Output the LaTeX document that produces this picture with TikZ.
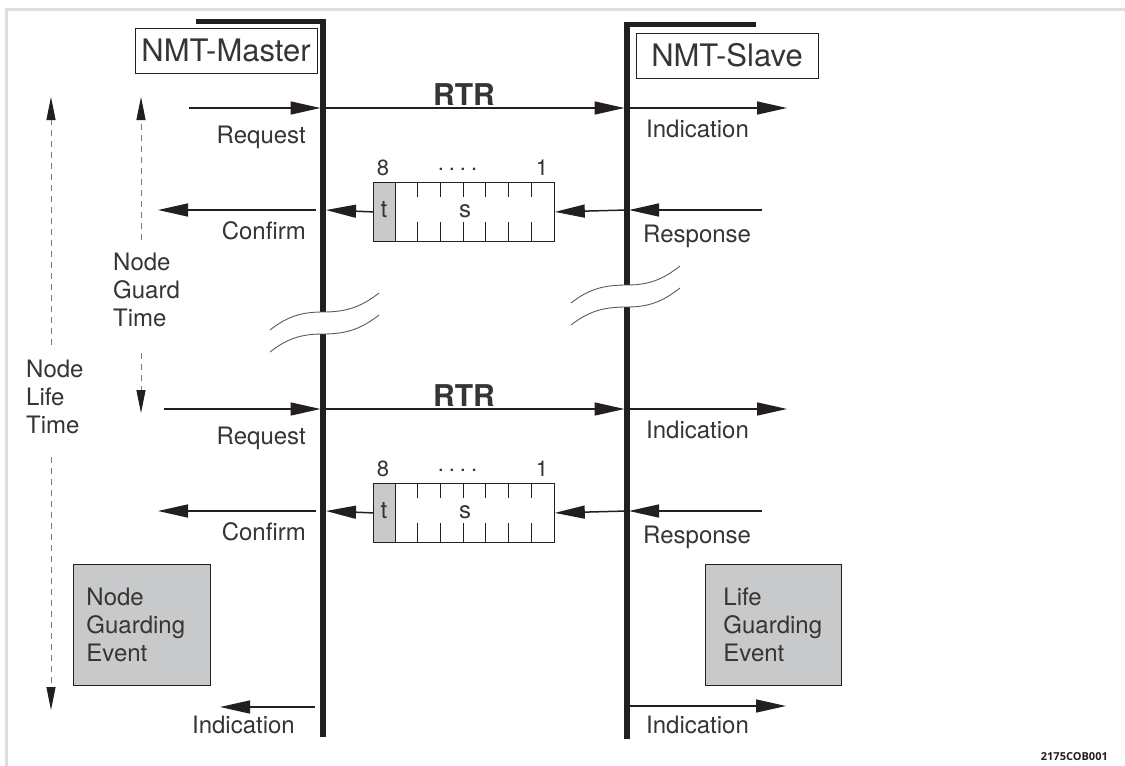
\documentclass[tikz,border=0pt]{standalone}
\usepackage{fontspec}
\setmainfont{TeX Gyre Heros}
\newfontfamily\codefont{Open Sans}
\usetikzlibrary{arrows.meta}
\definecolor{ink}{HTML}{231F20}
\definecolor{txt}{HTML}{353535}
\definecolor{boxgray}{HTML}{C8C9CB}
\definecolor{framegray}{HTML}{DDDDDD}
\definecolor{dashgray}{HTML}{7A7A7A}
\definecolor{wavegray}{HTML}{5A5A5A}
\begin{document}
\begin{tikzpicture}[x=1pt,y=-1pt,
  lbl/.style={font=\fontsize{24}{28}\selectfont, text=txt, inner sep=0pt},
  small/.style={font=\fontsize{22}{26}\selectfont, text=txt, inner sep=0pt},
  ttl/.style={draw=ink, line width=0.9pt, font=\fontsize{31}{36}\selectfont, text=txt, minimum width=182pt, minimum height=45pt, inner sep=0pt},
  rtr/.style={font=\fontsize{30}{36}\selectfont\bfseries, text=txt, inner sep=0pt},
  msg/.style={draw=ink, line width=1.5pt, -{Triangle[length=30pt,width=13pt]}},
  lifeline/.style={draw=ink, line width=5.5pt},
  dasharrow/.style={draw=dashgray, line width=0.9pt, dash pattern=on 6pt off 5pt, -{Triangle[length=23pt,width=9pt,color=ink]}},
  waveline/.style={draw=wavegray, line width=0.9pt},
  frameline/.style={draw=framegray, line width=2.7pt},
  cell/.style={draw=ink, line width=0.8pt, minimum height=59pt, inner sep=0pt, anchor=north west},
  event/.style={draw=ink, fill=boxgray, line width=0.9pt, minimum height=121pt, align=left, font=\fontsize{24}{28}\selectfont, text=txt, inner ysep=0pt},
  multi/.style={align=left, font=\fontsize{24}{28}\selectfont, text=txt, inner sep=0pt, anchor=north west}
]
\useasboundingbox (0,0) rectangle (1125,766);
\fill[white] (0,0) rectangle (1125,766);

% outer frame
\draw[frameline] (6.7,766) -- (6.7,9.7) -- (1125,9.7);

% lifelines
\draw[lifeline] (196,21.5) -- (323,21.5) -- (323,312);
\draw[lifeline] (323,334) -- (323,737);
\draw[lifeline] (756,24.7) -- (627,24.7) -- (627,285);
\draw[lifeline] (627,307) -- (627,739);

% break marks
\draw[waveline] (270,330) to[out=38,in=180] (323,312) to[out=0,in=218] (379,293);
\draw[waveline] (270,352) to[out=38,in=180] (323,334) to[out=0,in=218] (379,315);
\draw[waveline] (571,303) to[out=38,in=180] (627,285) to[out=0,in=218] (680,266);
\draw[waveline] (571,325) to[out=38,in=180] (627,307) to[out=0,in=218] (680,288);

% titles
\node[ttl, fill=white] (master) at (226,50.5) {NMT-Master};
\node[ttl, fill=white] (slave) at (727,55.5) {NMT-Slave};

% two guarding cycles
\foreach \r/\dy/\rqx in {1/0/189, 2/301/164} {
  % request / RTR / indication
  \coordinate (rqs\r) at (\rqx,108+\dy);
  \coordinate (rqe\r) at (320.5,108+\dy);
  \coordinate (rts\r) at (323,108+\dy);
  \coordinate (rte\r) at (624.5,108+\dy);
  \coordinate (ins\r) at (627,108+\dy);
  \coordinate (ine\r) at (787,108+\dy);
  \draw[msg] (rqs\r) -- (rqe\r);
  \draw[msg] (rts\r) -- (rte\r);
  \draw[msg] (ins\r) -- (ine\r);
  \node[rtr, anchor=base] (rtr\r) at (464,105+\dy) {RTR};
  \node[lbl, anchor=base east] (req\r) at (306,143+\dy) {Request};
  \node[lbl, anchor=base west] (ind\r) at (646,137+\dy) {Indication};
  % message frame
  \node[cell, fill=white, minimum width=181pt] (frame\r) at (373,182+\dy) {};
  \node[cell, fill=boxgray, minimum width=22pt, font=\fontsize{24}{28}\selectfont, text=txt] (tcell\r) at (373,182+\dy) {};
  \node[lbl, anchor=base] (tl\r) at (384,217+\dy) {t};
  \node[lbl, anchor=base] (sl\r) at (465,217+\dy) {s};
  \foreach \x in {417.7,440.3,463,485.7,508.3,531} {
    \draw[ink, line width=0.8pt] (\x,182+\dy) -- ++(0,15);
    \draw[ink, line width=0.8pt] (\x,241+\dy) -- ++(0,-19);
  }
  \node[small, anchor=base] (eight\r) at (383,175+\dy) {8};
  \node[small, anchor=base] (one\r) at (542,175+\dy) {1};
  \node[small, anchor=base] (dots\r) at (457.5,170+\dy) {.\hspace{5pt}.\hspace{5pt}.\hspace{5pt}.};
  % response / confirm
  \coordinate (rss\r) at (762,210+\dy);
  \coordinate (rse\r) at (629,210+\dy);
  \coordinate (fs\r) at (627,210+\dy);
  \coordinate (cfe\r) at (326,210+\dy);
  \coordinate (cos\r) at (316,210+\dy);
  \coordinate (coe\r) at (158,210+\dy);
  \draw[msg] (rss\r) -- (rse\r);
  \draw[msg] (fs\r) -- (frame\r.east);
  \draw[msg] (tcell\r.west) -- (cfe\r);
  \draw[msg] (cos\r) -- (coe\r);
  \node[lbl, anchor=base east] (conf\r) at (306,239+\dy) {Confirm};
  \node[lbl, anchor=base west] (resp\r) at (643,242+\dy) {Response};
}

% time spans
\node[multi] (guardtime) at (113,252.5) {Node\\Guard\\Time};
\node[multi] (lifetime) at (26,359.5) {Node\\Life\\Time};
\coordinate (gt1) at (141,240); \coordinate (gt1e) at (141,97);
\coordinate (gt2) at (141,353); \coordinate (gt2e) at (141,413);
\coordinate (lt1) at (51,345); \coordinate (lt1e) at (51,97);
\coordinate (lt2) at (51,457); \coordinate (lt2e) at (51,710);
\draw[dasharrow] (gt1) -- (gt1e);
\draw[dasharrow] (gt2) -- (gt2e);
\draw[dasharrow] (lt1) -- (lt1e);
\draw[dasharrow] (lt2) -- (lt2e);

% events
\node[event, anchor=north west, minimum width=137pt, text width=111pt, inner xsep=13pt] (nge) at (73,564) {Node\\Guarding\\Event};
\node[event, anchor=north west, minimum width=136pt, text width=100pt, inner xsep=18pt] (lge) at (705,564) {Life\\Guarding\\Event};

% final indications
\coordinate (mis) at (315,707); \coordinate (mie) at (220,707);
\coordinate (sis) at (627,706); \coordinate (sie) at (786,706);
\draw[msg] (mis) -- (mie);
\draw[msg] (sis) -- (sie);
\node[lbl, anchor=base east] (mind) at (295,733) {Indication};
\node[lbl, anchor=base west] (sind) at (646,733) {Indication};

% figure code
\node[font=\codefont\bfseries\fontsize{11}{13}\selectfont, text=ink, inner sep=0pt, anchor=base east] (code) at (1108,760) {2175COB001};
\end{tikzpicture}
\end{document}
